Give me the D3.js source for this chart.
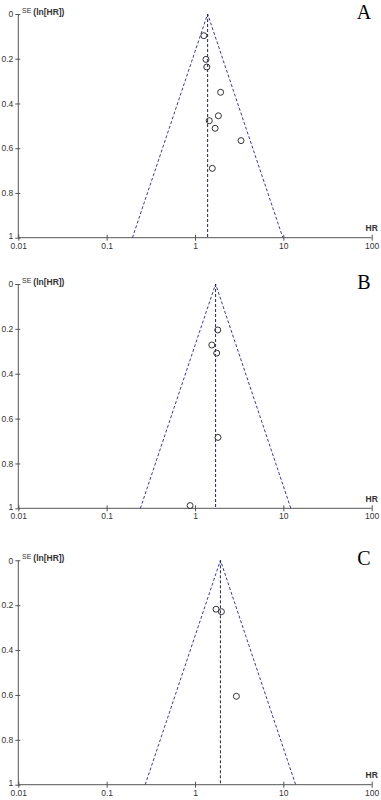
<!DOCTYPE html>
<html>
<head>
<meta charset="utf-8">
<script src="https://cdn.jsdelivr.net/npm/d3@7"></script>
<style>
  body { margin: 0; background: #fff; }
  svg { display: block; }
  .tick text { font-family: "Liberation Sans", Arial, sans-serif; font-size: 8.5px; fill: #333; }
</style>
</head>
<body>
<svg width="381" height="800"></svg>
<script>
// Panel data (HR and SE of ln HR)
var panelLabels = ['A', 'B', 'C'];
var pooledHR = [1.39, 1.71, 1.94];

var hrA = [1.26, 1.33, 1.36, 1.95, 1.84, 1.45, 1.69, 3.32, 1.57];
var seA = [0.097, 0.203, 0.237, 0.350, 0.455, 0.477, 0.511, 0.566, 0.690];

var hrB = [1.81, 1.55, 1.76, 1.82, 0.88];
var seB = [0.205, 0.272, 0.308, 0.684, 0.988];

var hrC = [1.73, 1.99, 2.94];
var seC = [0.218, 0.229, 0.606];

var xTicks = [0.01, 0.1, 1, 10, 100];
var xTickLabels = ['0.01', '0.1', '1', '10', '100'];
var yTicks = [0, 0.2, 0.4, 0.6, 0.8, 1];
var yTickLabels = ['0', '0.2', '0.4', '0.6', '0.8', '1'];

var svg = d3.select('svg');

// Each panel: top and bottom of the plotting area
var panels = [
    {label: panelLabels[0], pooled: pooledHR[0], hr: hrA, se: seA, top: 14, bottom: 237.7},
    {label: panelLabels[1], pooled: pooledHR[1], hr: hrB, se: seB, top: 284, bottom: 508.3},
    {label: panelLabels[2], pooled: pooledHR[2], hr: hrC, se: seC, top: 560.3, bottom: 784.7}
];

var left = 18.3, right = 371.7;
var x = d3.scaleLog().domain([0.01, 100]).range([left, right]);
var funnelColor = '#3b3b8f';
var axisColor = '#555';

panels.forEach(function(p) {
    var y = d3.scaleLinear().domain([0, 1]).range([p.top, p.bottom]);
    var g = svg.append('g');

    // y axis
    var yAxis = g.append('g')
        .attr('transform', 'translate(' + left + ',0)')
        .call(d3.axisLeft(y).tickValues(yTicks)
            .tickFormat(function(d, i) { return yTickLabels[i]; })
            .tickSize(3).tickPadding(2));
    yAxis.select('.domain').attr('stroke', axisColor).attr('d', 'M0,' + p.top + 'V' + p.bottom);
    yAxis.selectAll('.tick line').attr('stroke', axisColor).attr('x1', 2);
    // the "1" label sits a bit high so it clears the 0.01 label below it
    yAxis.selectAll('.tick text').filter(function(d) { return d === 1; }).attr('dy', '0.1em');

    // x axis
    var xAxis = g.append('g')
        .attr('transform', 'translate(0,' + p.bottom + ')')
        .call(d3.axisBottom(x).tickValues(xTicks)
            .tickFormat(function(d, i) { return xTickLabels[i]; })
            .tickSize(3).tickPadding(2));
    xAxis.select('.domain').attr('stroke', axisColor).attr('d', 'M' + left + ',0H' + right);
    xAxis.selectAll('.tick line').attr('stroke', axisColor).attr('y1', -3);

    // funnel: pooled +/- 1.96 SE on ln scale
    var seMax = 1;
    var lo = Math.exp(Math.log(p.pooled) - 1.96 * seMax);
    var hi = Math.exp(Math.log(p.pooled) + 1.96 * seMax);
    var funnel = [[lo, seMax], [p.pooled, 0], [hi, seMax]];
    g.append('path')
        .datum(funnel)
        .attr('d', d3.line().x(function(d) { return x(d[0]); }).y(function(d) { return y(d[1]); }))
        .attr('fill', 'none')
        .attr('stroke', funnelColor)
        .attr('stroke-width', 1)
        .attr('stroke-dasharray', '3,2');
    g.append('line')
        .attr('x1', x(p.pooled)).attr('x2', x(p.pooled))
        .attr('y1', y(0)).attr('y2', y(1))
        .attr('stroke', '#23234f')
        .attr('stroke-width', 1)
        .attr('stroke-dasharray', '3,2');

    // studies
    g.selectAll('circle.study')
        .data(p.hr)
        .enter()
        .append('circle')
        .attr('class', 'study')
        .attr('cx', function(d) { return x(d); })
        .attr('cy', function(d, i) { return y(p.se[i]); })
        .attr('r', 3)
        .attr('fill', 'none')
        .attr('stroke', '#333')
        .attr('stroke-width', 1);

    // axis titles
    var yTitle = g.append('text')
        .attr('x', 22)
        .attr('y', p.top + 1)
        .attr('font-family', 'Liberation Sans, Arial, sans-serif')
        .attr('fill', '#333');
    yTitle.append('tspan').attr('font-size', '7px').attr('dy', -2).text('SE ');
    yTitle.append('tspan').attr('font-size', '8.5px').attr('font-weight', 'bold').attr('dy', 2).text('(ln[HR])');

    g.append('text')
        .attr('x', x(100))
        .attr('y', p.bottom - 6.5)
        .attr('text-anchor', 'middle')
        .attr('font-family', 'Liberation Sans, Arial, sans-serif')
        .attr('font-size', '8.5px')
        .attr('font-weight', 'bold')
        .attr('fill', '#333')
        .text('HR');

    // panel letter
    g.append('text')
        .attr('x', 364)
        .attr('y', p.top + 5)
        .attr('text-anchor', 'middle')
        .attr('font-family', 'Liberation Serif, Times New Roman, serif')
        .attr('font-size', '20px')
        .attr('fill', '#000')
        .text(p.label);
});
</script>
</body>
</html>
